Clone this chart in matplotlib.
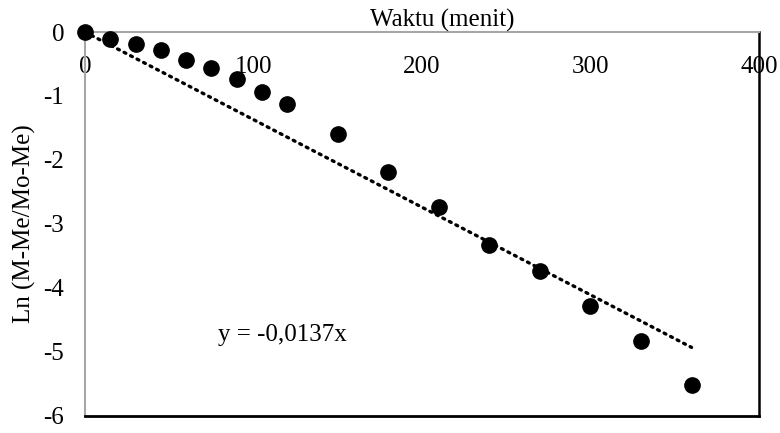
import numpy as np
import matplotlib.pyplot as plt

# drying time (minutes) and ln moisture ratio
waktu = [0, 15, 30, 45, 60, 75, 90, 105, 120, 150, 180, 210, 240, 270, 300, 330, 360]
ln_mr = [0.0, -0.11, -0.19, -0.28, -0.43, -0.57, -0.73, -0.93, -1.12, -1.59,
         -2.19, -2.74, -3.33, -3.73, -4.28, -4.83, -5.52]
slope = -0.0137
x_ticks = [0, 100, 200, 300, 400]
y_ticks = [0, -1, -2, -3, -4, -5, -6]

plt.rcParams['font.family'] = ['Liberation Serif', 'DejaVu Serif']
plt.rcParams['font.size'] = 18
plt.rcParams['axes.unicode_minus'] = False

fig = plt.figure(figsize=(7.8, 4.33), dpi=100)
ax = fig.add_axes([0.109, 0.04, 0.864, 0.886])

# trendline through the origin
x_fit = np.array([0, waktu[-1]])
ax.plot(x_fit, slope * x_fit, color='black', linewidth=2.4,
        linestyle=(0, (0.6, 1.6)), dash_capstyle='round', zorder=2)
ax.plot(waktu, ln_mr, 'o', color='black', markersize=11, zorder=3,
        clip_on=False)

ax.set_xlim(0, 400)
ax.set_ylim(-6, 0)
ax.set_xticks(x_ticks)
ax.set_yticks(y_ticks)

# x axis sits at y = 0, along the top of the plot area
ax.spines['top'].set_visible(False)
ax.spines['bottom'].set_position(('data', 0))
ax.spines['bottom'].set_color('#a6a6a6')
ax.spines['bottom'].set_linewidth(1.5)
ax.spines['left'].set_color('#a6a6a6')
ax.spines['left'].set_linewidth(1.5)
ax.spines['right'].set_color('black')
ax.spines['right'].set_linewidth(1.8)
ax.plot([0, 1], [0, 0], transform=ax.transAxes, color='black',
        linewidth=2.0, clip_on=False, zorder=5)

ax.tick_params(axis='x', length=0, pad=17)
ax.tick_params(axis='y', length=0, pad=15)

ax.text(0.53, 1.0, 'Waktu (menit)', transform=ax.transAxes,
        ha='center', va='bottom')
ax.text(-0.09, 0.5, 'Ln (M-Me/Mo-Me)', transform=ax.transAxes,
        ha='center', va='center', rotation=90)
ax.text(117, -4.74, 'y = -0,0137x', ha='center', va='center')

fig.savefig('out.png', dpi=100)
